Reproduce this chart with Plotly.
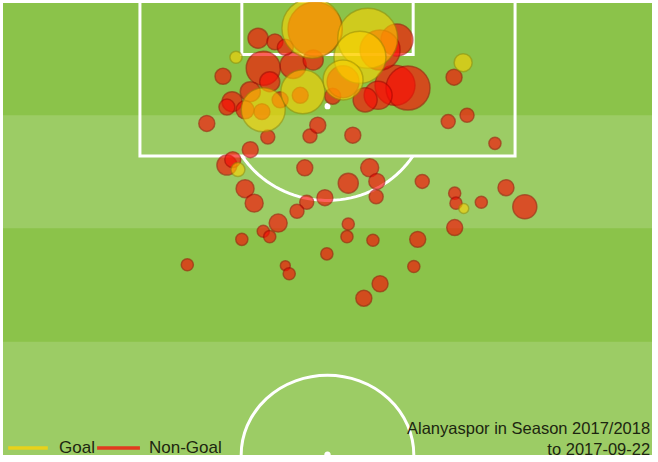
import numpy as np
import plotly.graph_objects as go

# Shot data (Opta-like pitch units): x = across pitch width (0-100),
# y = distance from the goal line (0 = goal line, 50 = halfway line), xg = expected goals
nongoal_x = [38.1, 34.5, 35.4, 37.3, 38.7, 46.5, 53.2, 56.5, 57.6, 57.5,
             49.6, 46.8, 45.3, 42.4, 40.1, 41.1, 36.8, 53.2, 53.0, 57.0,
             63.9, 64.6, 69.6, 69.8, 73.7, 77.5, 80.4, 69.6, 28.4, 43.5,
             44.1, 49.9, 63.3, 58.1, 55.6, 75.8, 31.4, 33.9, 39.3, 41.9,
             40.8, 47.3, 48.5, 53.9, 68.6, 71.5, 69.5, 40.1, 41.1, 44.7,
             38.1, 35.3, 34.5, 43.5, 47.8, 60.4, 62.4, 57.8, 55.8, 50.8,
             60.7, 48.1, 52.4, 58.1, 39.9, 42.7, 45.8, 37.3]
nongoal_y = [16.3, 18.0, 17.4, 20.6, 22.2, 18.3, 20.0, 18.3, 19.8, 21.5,
             21.6, 22.1, 23.1, 24.4, 25.3, 25.9, 26.2, 24.5, 25.9, 26.3,
             26.2, 19.8, 21.1, 22.2, 22.1, 20.5, 22.6, 24.9, 29.0, 29.1,
             30.0, 27.8, 29.2, 31.1, 32.7, 15.6, 13.4, 8.2, 4.0, 4.4,
             14.9, 14.8, 13.6, 14.7, 13.2, 12.5, 8.3, 7.3, 8.8, 7.0,
             9.9, 11.0, 11.6, 5.0, 6.4, 9.2, 9.5, 10.3, 10.8, 10.4,
             4.2, 3.0, 8.8, 5.3, 12.1, 10.8, 10.3, 11.9]
nongoal_xg = [0.026, 0.041, 0.026, 0.033, 0.033, 0.026, 0.041, 0.033, 0.026, 0.020,
              0.026, 0.020, 0.020, 0.033, 0.015, 0.015, 0.015, 0.015, 0.015, 0.015,
              0.026, 0.020, 0.015, 0.015, 0.015, 0.026, 0.059, 0.026, 0.015, 0.010,
              0.015, 0.015, 0.015, 0.026, 0.026, 0.015, 0.026, 0.026, 0.041, 0.026,
              0.020, 0.020, 0.026, 0.026, 0.020, 0.020, 0.026, 0.118, 0.041, 0.069,
              0.041, 0.041, 0.026, 0.026, 0.041, 0.163, 0.197, 0.080, 0.059, 0.026,
              0.104, 0.300, 0.104, 0.163, 0.026, 0.026, 0.026, 0.033]

goal_x = [36.2, 71.0, 35.9, 70.9, 40.1, 46.2, 47.6, 56.2, 55.0, 52.4]
goal_y = [18.5, 22.8, 6.1, 6.7, 11.9, 9.9, 2.9, 4.0, 6.1, 8.6]
goal_xg = [0.020, 0.010, 0.015, 0.033, 0.197, 0.197, 0.367, 0.367, 0.276, 0.163]

legend_labels = ["Goal", "Non-Goal"]
caption_lines = ["Alanyaspor in Season 2017/2018", "to 2017-09-22"]

DARK = "#8bc34a"
LIGHT = "#9ccc65"
LINE = "white"

fig = go.Figure()

fig.add_trace(go.Scatter(
    x=nongoal_x, y=nongoal_y, mode="markers", name=legend_labels[1],
    marker=dict(size=nongoal_xg, sizemode="area", sizeref=0.000204,
                color="rgba(250,12,5,0.92)",
                line=dict(color="rgba(160,0,0,0.75)", width=1.5)),
    showlegend=False, hoverinfo="skip"))
fig.add_trace(go.Scatter(
    x=goal_x, y=goal_y, mode="markers", name=legend_labels[0],
    marker=dict(size=goal_xg, sizemode="area", sizeref=0.000204,
                color="rgba(255,210,0,0.84)",
                line=dict(color="rgba(150,135,0,0.7)", width=1.5)),
    showlegend=False, hoverinfo="skip"))

shapes = []
# stripes
for i in range(4):
    shapes.append(dict(type="rect", xref="x", yref="y", x0=0, x1=100,
                       y0=i * 12.5, y1=(i + 1) * 12.5,
                       fillcolor=DARK if i % 2 == 0 else LIGHT,
                       line=dict(width=0), layer="below"))
lw = 3
# goal line
shapes.append(dict(type="line", xref="x", yref="y", x0=0, x1=100, y0=0, y1=0,
                   line=dict(color=LINE, width=2), layer="below"))
# penalty area
shapes.append(dict(type="path", xref="x", yref="y",
                   path="M 21.1,0 L 21.1,17 L 78.9,17 L 78.9,0",
                   line=dict(color=LINE, width=lw), layer="below"))
# six-yard box
shapes.append(dict(type="path", xref="x", yref="y",
                   path="M 36.8,0 L 36.8,5.8 L 63.2,5.8 L 63.2,0",
                   line=dict(color=LINE, width=lw), layer="below"))
# penalty arc
t0 = np.arcsin((17 - 11.5) / 10.4)
ts = np.linspace(t0, np.pi - t0, 40)
pts = [(50 + 15.5 * np.cos(t), 11.5 + 10.4 * np.sin(t)) for t in ts]
arc = "M " + " L ".join(f"{a:.3f},{b:.3f}" for a, b in pts)
shapes.append(dict(type="path", xref="x", yref="y", path=arc,
                   line=dict(color=LINE, width=lw), layer="below"))
# penalty spot
shapes.append(dict(type="circle", xref="x", yref="y", x0=49.55, x1=50.45,
                   y0=11.15, y1=11.85, fillcolor=LINE, line=dict(width=0),
                   layer="below"))
# centre circle
shapes.append(dict(type="circle", xref="x", yref="y", x0=36.7, x1=63.3,
                   y0=41.2, y1=58.8, line=dict(color=LINE, width=lw),
                   layer="below"))
shapes.append(dict(type="circle", xref="x", yref="y", x0=49.5, x1=50.5,
                   y0=49.6, y1=50.4, fillcolor=LINE, line=dict(width=0),
                   layer="below"))

# legend swatches (paper coords)
shapes.append(dict(type="line", xref="paper", yref="paper", x0=0.008, x1=0.069,
                   y0=0.0155, y1=0.0155, line=dict(color="#e8d21a", width=3.5)))
shapes.append(dict(type="line", xref="paper", yref="paper", x0=0.145, x1=0.211,
                   y0=0.0155, y1=0.0155, line=dict(color="#e23a1e", width=3.5)))

font = dict(family="Liberation Sans, Arial, sans-serif", size=17, color="#1c2610")
annotations = [
    dict(text=legend_labels[0], xref="paper", yref="paper", x=0.083, y=0.0155,
         xanchor="left", yanchor="middle", showarrow=False, font=font),
    dict(text=legend_labels[1], xref="paper", yref="paper", x=0.222, y=0.0155,
         xanchor="left", yanchor="middle", showarrow=False, font=font),
    dict(text="<br>".join(caption_lines), xref="paper", yref="paper",
         x=0.999, y=-0.008, xanchor="right", yanchor="bottom", align="right",
         showarrow=False, borderpad=0,
         font=dict(family=font["family"], size=16.5, color=font["color"])),
]

fig.update_layout(
    width=658, height=462,
    margin=dict(l=3, r=6, t=2, b=7),
    paper_bgcolor="white", plot_bgcolor=DARK,
    shapes=shapes, annotations=annotations,
    xaxis=dict(range=[0, 100], visible=False, fixedrange=True),
    yaxis=dict(range=[50, 0], visible=False, fixedrange=True),
    showlegend=False,
)

fig.write_html("out.html", config={"displayModeBar": False},
               post_script="document.body.style.margin='0';document.body.style.overflow='hidden';")
